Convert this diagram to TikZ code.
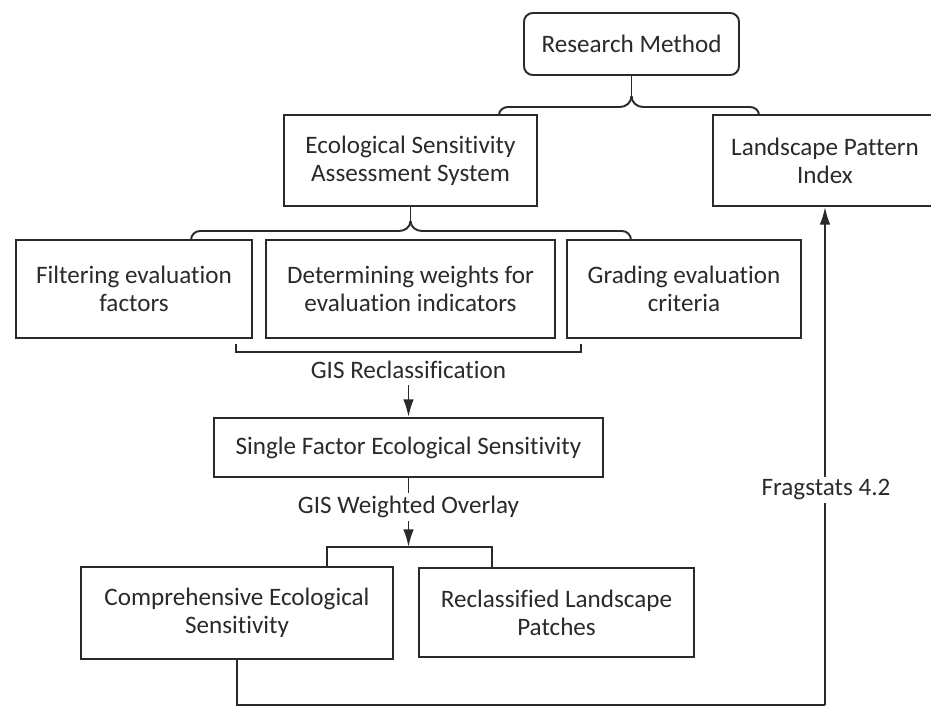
\documentclass[tikz,border=0pt]{standalone}
\usepackage{fontspec}
\setmainfont{Carlito}[Ligatures=NoCommon]
\usetikzlibrary{arrows.meta}
\definecolor{ink}{HTML}{2A2A2A}
\tikzset{
  box/.style={draw=ink, line width=1.1pt, fill=white, text=ink, align=center,
    inner sep=0pt, font=\fontsize{14.3}{16}\selectfont},
  conn/.style={draw=ink, line width=1.1pt},
  arr/.style={conn, -{Latex[length=10pt,width=6pt]}},
  lbl/.style={text=ink, fill=white, inner sep=1.5pt, font=\fontsize{14.3}{16}\selectfont},
}
\begin{document}
\begin{tikzpicture}[x=0.02cm, y=-0.02cm]
\useasboundingbox (0,0) rectangle (931,706);
% boxes
\node[box, rounded corners=5pt, minimum width=215*0.02cm, minimum height=62*0.02cm] (rm) at (631.5,44) {Research Method};
\node[box, minimum width=253*0.02cm, minimum height=91*0.02cm] (esas) at (410.5,160.5) {Ecological Sensitivity\\Assessment System};
\node[box, minimum width=224*0.02cm, minimum height=91*0.02cm] (lpi) at (825,160.5) {Landscape Pattern\\Index};
\node[box, minimum width=236*0.02cm, minimum height=98*0.02cm] (filt) at (134,289) {Filtering evaluation\\factors};
\node[box, minimum width=289*0.02cm, minimum height=98*0.02cm] (det) at (410.5,289) {Determining weights for\\evaluation indicators};
\node[box, minimum width=234*0.02cm, minimum height=98*0.02cm] (grad) at (684,289) {Grading evaluation\\criteria};
\node[box, minimum width=389*0.02cm, minimum height=59*0.02cm] (single) at (408.5,447.5) {Single Factor Ecological Sensitivity};
\node[box, minimum width=312*0.02cm, minimum height=92*0.02cm] (comp) at (237,613) {Comprehensive Ecological\\Sensitivity};
\node[box, minimum width=275*0.02cm, minimum height=89*0.02cm] (recl) at (556.5,612.5) {Reclassified Landscape\\Patches};
% top brace
\coordinate (b1) at (631.5,96);
\draw[conn] (rm.south) -- (b1);
\draw[conn] (499,115) to[out=90,in=180] (508,107) -- (620,107) to[out=0,in=-90] (b1);
\draw[conn] (759,115) to[out=90,in=0] (750,107) -- (643,107) to[out=180,in=-90] (b1);
% second brace
\coordinate (b2) at (410.5,221);
\draw[conn] (esas.south) -- (b2);
\draw[conn] (191,240) to[out=90,in=180] (200,231) -- (399,231) to[out=0,in=-90] (b2);
\draw[conn] (631,240) to[out=90,in=0] (622,231) -- (422,231) to[out=180,in=-90] (b2);
% GIS reclassification bracket
\draw[conn] (236,344) -- (236,352) -- (581,352) -- (581,344);
\node[lbl] (gisr) at (408.5,370) {GIS Reclassification};
\draw[arr] (408.5,385) -- (single.north);
% weighted overlay
\coordinate (wo) at (408.5,547);
\draw[arr] (single.south) -- (wo);
\node[lbl] (giswo) at (408.5,507) {GIS Weighted Overlay};
\draw[conn] (327,567) -- (327,547) -- (492,547) -- (492,567);
% bottom to landscape pattern index
\coordinate (c1) at (237,705);
\coordinate (c2) at (825,705);
\draw[conn] (comp.south) -- (c1) -- (c2);
\draw[arr] (c2) -- (lpi.south);
\node[lbl] (frag) at (826,490) {Fragstats 4.2};
\end{tikzpicture}
\end{document}
